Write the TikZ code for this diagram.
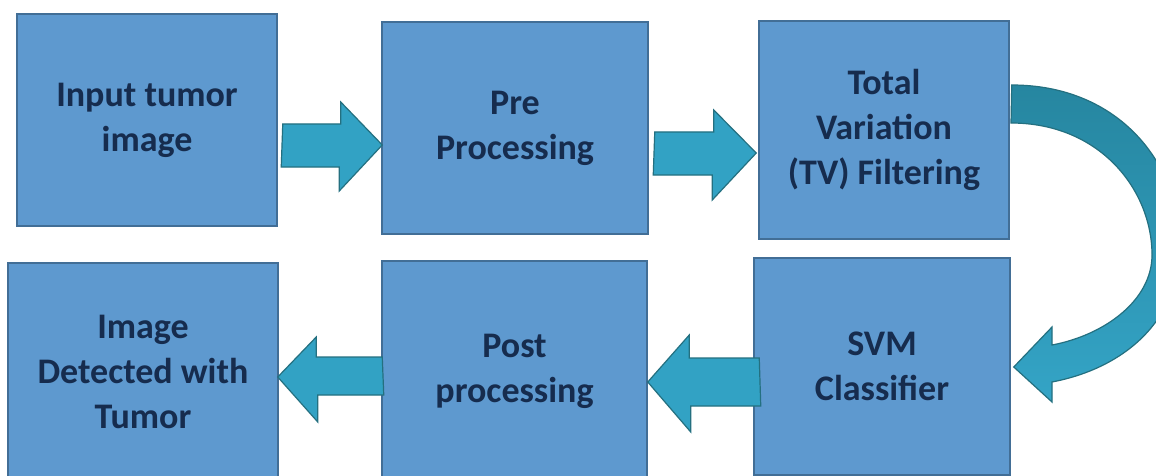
\documentclass[tikz,border=0pt]{standalone}
\usepackage{fontspec}
\setmainfont{Carlito}
\usetikzlibrary{calc}
\definecolor{boxfill}{RGB}{94,153,207}
\definecolor{boxline}{RGB}{66,110,150}
\definecolor{txt}{RGB}{22,44,78}
\definecolor{arrfill}{RGB}{50,162,196}
\definecolor{arrline}{RGB}{36,112,128}
\definecolor{curvetop}{RGB}{38,134,160}
\definecolor{curvebot}{RGB}{52,164,198}
\tikzset{
  stepbox/.style={draw=boxline, line width=1.5pt, fill=boxfill, text=txt,
    align=center, inner sep=0pt,
    font=\fontsize{36}{45}\selectfont\bfseries},
  blockarrow/.style={draw=arrline, line width=1.2pt, fill=arrfill, line join=miter},
  curvearrow/.style={draw=arrline, line width=1.2pt, top color=curvetop, bottom color=curvebot, line join=miter}
}
\begin{document}
\begin{tikzpicture}[x=1pt,y=-1pt]
\useasboundingbox (0,0) rectangle (1156,476);
\clip (0,0) rectangle (1156,476);
\fill[white] (0,0) rectangle (1156,476);
\node[stepbox, minimum width=260pt, minimum height=212pt] (b1) at (147,120) {Input tumor\\image};
\node[stepbox, minimum width=266pt, minimum height=212pt] (b2) at (515,128) {Pre\\Processing};
\node[stepbox, minimum width=250pt, minimum height=218pt] (b3) at (884,130) {Total\\Variation\\(TV) Filtering};
\node[stepbox, minimum width=270pt, minimum height=218pt] (b4) at (143,372) {Image\\Detected with\\Tumor};
\node[stepbox, minimum width=265pt, minimum height=220pt] (b5) at (514.5,371) {Post\\processing};
\node[stepbox, minimum width=256pt, minimum height=217pt] (b6) at (882,366.5) {SVM\\Classifier};
% b1 -> b2
\draw[blockarrow] ($(b1.east)+(5,4)$) -- ++(58,0) -- ++(0,-22) -- ($(b2.west)+(1,17)$) -- ++(-43,46) -- ++(0,-24) -- ++(-58,0) -- cycle;
% b2 -> b3
\draw[blockarrow] ($(b2.east)+(6,4)$) -- ++(59,0) -- ++(0,-22) -- ($(b3.west)+(-2,23)$) -- ++(-44,47) -- ++(0,-25) -- ++(-59,0) -- cycle;
% b3 -> b6 (curved)
\draw[curvearrow] ($(b3.east)+(2,-45)$) .. controls (1120,85) and (1180,165) .. (1180,245)
  .. controls (1180,320) and (1125,368) .. (1052,382) -- (1052,402) -- ($(b6.east)+(3,0.5)$)
  -- (1052,327) -- (1052,345) .. controls (1105,335) and (1152,300) .. (1152,255)
  .. controls (1152,190) and (1100,123) .. (1011,123) -- cycle;
% b6 -> b5
\draw[blockarrow] ($(b6.west)+(6,-8.5)$) -- ++(-70,0) -- ++(0,-23) -- ($(b5.east)+(0,11)$) -- ++(43,50) -- ++(0,-26) -- ++(70,0) -- cycle;
% b5 -> b4
\draw[blockarrow] ($(b5.west)+(1,-14)$) -- ++(-66,0) -- ++(0,-20) -- ($(b4.east)+(-1,5)$) -- ++(40,45) -- ++(0,-27) -- ++(66,0) -- cycle;
\end{tikzpicture}
\end{document}
